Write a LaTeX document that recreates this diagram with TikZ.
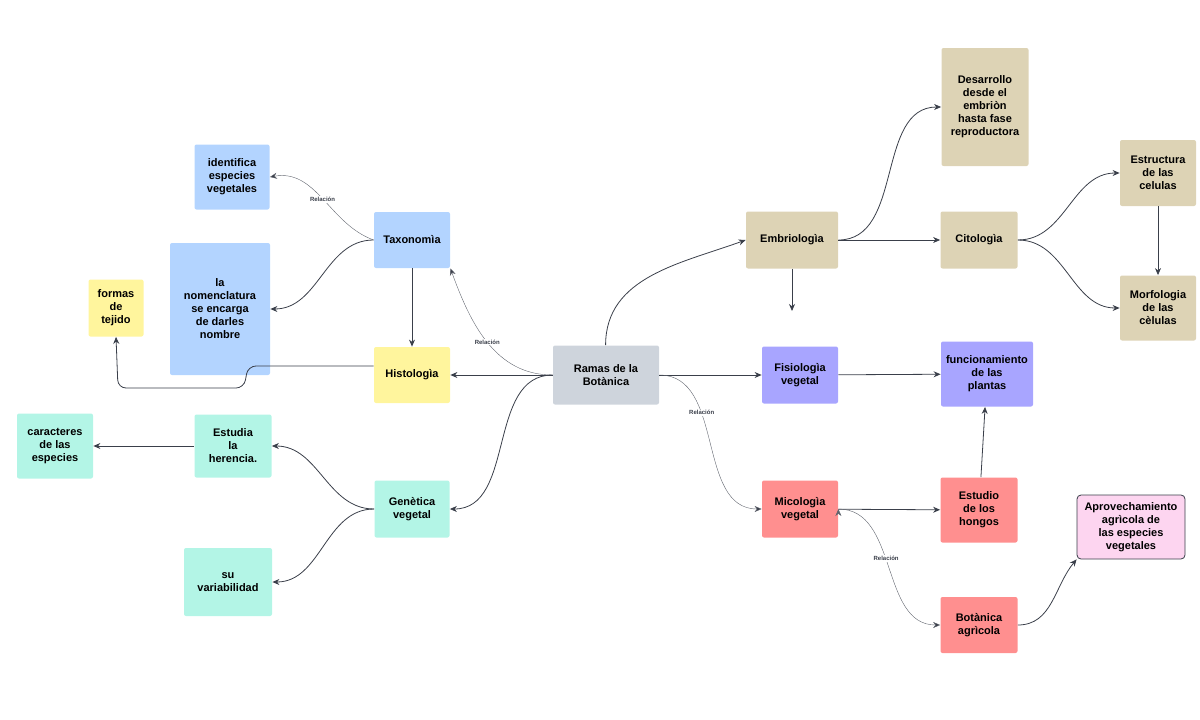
\documentclass[tikz,border=0pt]{standalone}
\usepackage{fontspec}
\setmainfont{Liberation Sans}
\usetikzlibrary{arrows.meta}
\definecolor{grayb}{HTML}{CED4DC}
\definecolor{blueb}{HTML}{B3D4FF}
\definecolor{yelb}{HTML}{FFF59D}
\definecolor{mintb}{HTML}{B3F5E6}
\definecolor{tanb}{HTML}{DDD3B5}
\definecolor{purb}{HTML}{A8A5FF}
\definecolor{redb}{HTML}{FF8F8F}
\definecolor{pinkb}{HTML}{FDD5F0}
\definecolor{linec}{HTML}{3A3F4A}
\begin{document}
\begin{tikzpicture}[x=1pt,y=-1pt,->,>={Stealth[length=7pt,width=6pt]},
  thick,draw=linec,
  box node/.style={rectangle,rounded corners=2pt,align=center,font=\bfseries\fontsize{11}{13}\selectfont,inner sep=2pt},
  rel/.style={thin,draw=linec!80},
  rel label/.style={font=\bfseries\fontsize{6}{7}\selectfont,text=linec,fill=white,inner sep=1pt}]
  \useasboundingbox (0,0) rectangle (1200,720);

  \node[box node,fill=grayb,minimum width=106pt,minimum height=59pt] (ramas) at (606,375) {Ramas de la\\Botànica};
  \node[box node,fill=blueb,minimum width=76pt,minimum height=56pt] (taxo) at (412,240) {Taxonomìa};
  \node[box node,fill=blueb,minimum width=75pt,minimum height=65pt] (ident) at (232,177) {identifica\\especies\\vegetales};
  \node[box node,fill=blueb,minimum width=100pt,minimum height=132pt] (nomen) at (220,309) {la\\nomenclatura\\se encarga\\de darles\\nombre};
  \node[box node,fill=yelb,minimum width=55pt,minimum height=57pt] (formas) at (116,308) {formas\\de\\tejido};
  \node[box node,fill=yelb,minimum width=76pt,minimum height=56pt] (histo) at (412,375) {Histologìa};
  \node[box node,fill=mintb,minimum width=77pt,minimum height=63pt] (estudia) at (233,446) {Estudia\\la\\herencia.};
  \node[box node,fill=mintb,minimum width=76pt,minimum height=65pt] (caract) at (55,446) {caracteres\\de las\\especies};
  \node[box node,fill=mintb,minimum width=75pt,minimum height=57pt] (gene) at (412,509) {Genètica\\vegetal};
  \node[box node,fill=mintb,minimum width=88pt,minimum height=68pt] (variab) at (228,582) {su\\variabilidad};
  \node[box node,fill=tanb,minimum width=92pt,minimum height=57pt] (embrio) at (792,240) {Embriologìa};
  \node[box node,fill=tanb,minimum width=87pt,minimum height=118pt] (desarr) at (985,107) {Desarrollo\\desde el\\embriòn\\hasta fase\\reproductora};
  \node[box node,fill=tanb,minimum width=77pt,minimum height=57pt] (cito) at (979,240) {Citologìa};
  \node[box node,fill=tanb,minimum width=76pt,minimum height=66pt] (estruc) at (1158,173) {Estructura\\de las\\celulas};
  \node[box node,fill=tanb,minimum width=76pt,minimum height=65pt] (morfo) at (1158,308) {Morfologia\\de las\\cèlulas};
  \node[box node,fill=purb,minimum width=76pt,minimum height=57pt] (fisio) at (800,375) {Fisiologìa\\vegetal};
  \node[box node,fill=purb,minimum width=92pt,minimum height=65pt] (funcion) at (987,374) {funcionamiento\\de las\\plantas};
  \node[box node,fill=redb,minimum width=76pt,minimum height=57pt] (mico) at (800,509) {Micologìa\\vegetal};
  \node[box node,fill=redb,minimum width=77pt,minimum height=65pt] (hongos) at (979,510) {Estudio\\de los\\hongos};
  \node[box node,fill=redb,minimum width=77pt,minimum height=56pt] (agri) at (979,625) {Botànica\\agrìcola};
  \node[box node,fill=pinkb,draw=linec,thick,rounded corners=4pt,minimum width=108pt,minimum height=64pt] (aprov) at (1131,527) {Aprovechamiento\\agrìcola de\\las especies\\vegetales};
  \coordinate (embrio down) at (792,311);

  \path
    (ramas.west) edge (histo)
    (ramas.west) edge [out=180,in=0] (gene.east)
    (ramas.north west) ++(53,0) edge [out=90,in=200] (embrio.west)
    (ramas.east) edge (fisio)
    (taxo.west) edge [out=180,in=0] (nomen.east)
    (taxo) edge (histo)
    (gene.west) edge [out=180,in=0] (estudia.east)
    (gene.west) edge [out=180,in=0] (variab.east)
    (estudia) edge (caract)
    (embrio.east) edge [out=0,in=180] (desarr.west)
    (embrio) edge (cito)
    (embrio) edge (embrio down)
    (cito.east) edge [out=0,in=180] (estruc.west)
    (cito.east) edge [out=0,in=180] (morfo.west)
    (estruc) edge (morfo)
    (fisio) edge (funcion)
    (hongos) edge (funcion)
    (mico) edge (hongos)
    (agri.east) edge [out=0,in=230] (aprov.south west)
    ;

  \path[rel]
    (ramas.west) edge [out=180,in=-70] node[rel label,pos=0.5] {Relación} (taxo.south east)
    (ramas.east) edge [out=0,in=180] node[rel label,pos=0.35] {Relación} (mico.west)
    (taxo.west) edge [out=160,in=10] node[rel label,pos=0.5] {Relación} (ident.east)
    (mico.east) edge [out=0,in=180] node[rel label,pos=0.45] {Relación} (agri.west)
    ;

  \draw[rounded corners=8pt] (histo.west) ++(0,-9) -- (248,366) -- (244,388) -- (118,388) -- (formas.south);
\end{tikzpicture}
\end{document}
